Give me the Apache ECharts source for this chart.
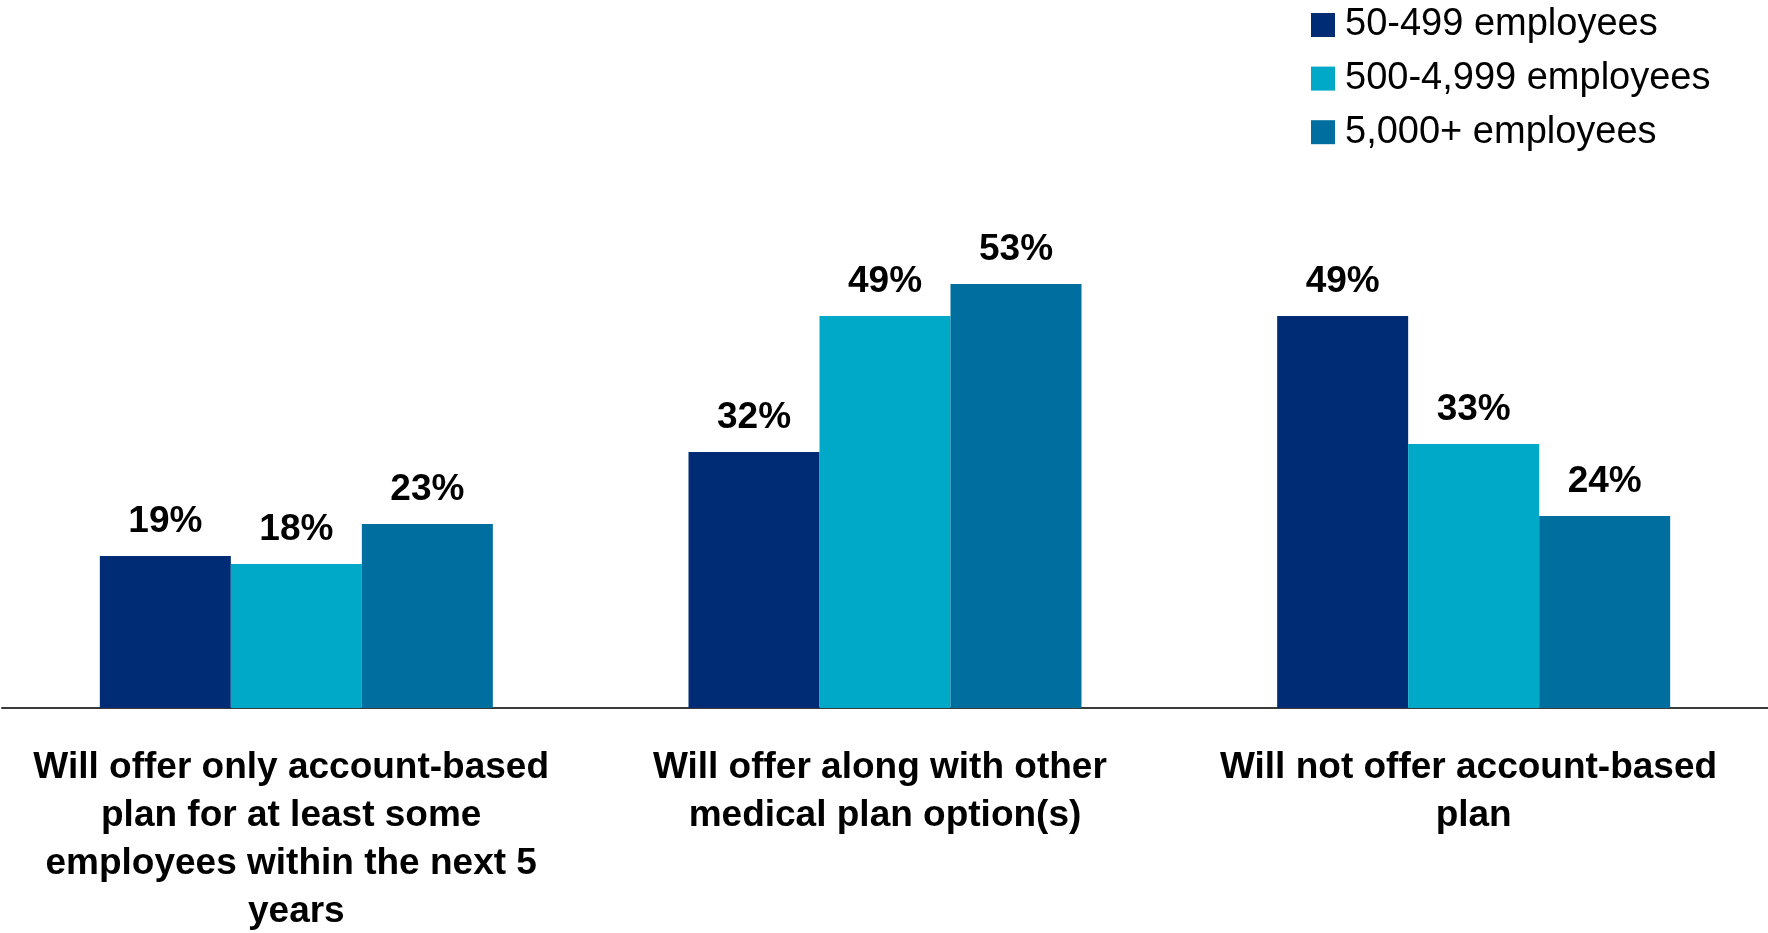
<!DOCTYPE html>
<html>
<head>
<meta charset="utf-8">
<style>
  html, body { margin: 0; padding: 0; background: #ffffff; }
  #chart { width: 1768px; height: 933px; }
</style>
<script src="https://cdn.jsdelivr.net/npm/echarts@6/dist/echarts.min.js"></script>
</head>
<body>
<div id="chart"></div>
<script>
// Plans for account-based health plans, by employer size
const categories = [
  'Will offer only account-based plan for at least some employees within the next 5 years',
  'Will offer along with other medical plan option(s)',
  'Will not offer account-based plan'
];
const seriesNames = ['50-499 employees', '500-4,999 employees', '5,000+ employees'];
const small = [19, 32, 49];
const mid = [18, 49, 33];
const large = [23, 53, 24];
const colors = ['#002B75', '#00A9C8', '#006E9F'];

const FONT = "'Liberation Sans', Arial, Helvetica, sans-serif";

const chart = echarts.init(document.getElementById('chart'));

const makeSeries = (name, data, color) => ({
  name: name,
  type: 'bar',
  data: data,
  barWidth: 131,
  barGap: '0%',
  itemStyle: { color: color },
  label: {
    show: true,
    position: 'top',
    distance: 16,
    formatter: '{c}%',
    color: '#000000',
    fontFamily: FONT,
    fontWeight: 'bold',
    fontSize: 37
  }
});

chart.setOption({
  animation: false,
  backgroundColor: '#ffffff',
  legend: {
    orient: 'vertical',
    left: 1311,
    top: 5,
    padding: 0,
    icon: 'rect',
    itemWidth: 24,
    itemHeight: 24,
    itemGap: 13.6,
    data: seriesNames,
    textStyle: {
      color: '#000000',
      fontFamily: FONT,
      fontSize: 38,
      lineHeight: 40,
      padding: [0, 0, 0, 5]
    }
  },
  // fixed plot area: wrapped category labels must not shrink it
  grid: { left: 2, right: 0, top: 228, bottom: 225, outerBoundsMode: 'none' },
  xAxis: {
    type: 'category',
    data: categories,
    axisLine: { show: true, lineStyle: { color: '#3a3a3a', width: 2 } },
    axisTick: { show: false },
    axisLabel: {
      interval: 0,
      margin: 36,
      width: 550,
      overflow: 'break',
      color: '#000000',
      fontFamily: FONT,
      fontWeight: 'bold',
      fontSize: 37,
      lineHeight: 48,
      align: 'center'
    }
  },
  yAxis: {
    type: 'value',
    min: 0,
    max: 60,
    interval: 10,
    show: false,
    splitLine: { show: false }
  },
  series: [
    makeSeries(seriesNames[0], small, colors[0]),
    makeSeries(seriesNames[1], mid, colors[1]),
    makeSeries(seriesNames[2], large, colors[2])
  ]
});
</script>
</body>
</html>
